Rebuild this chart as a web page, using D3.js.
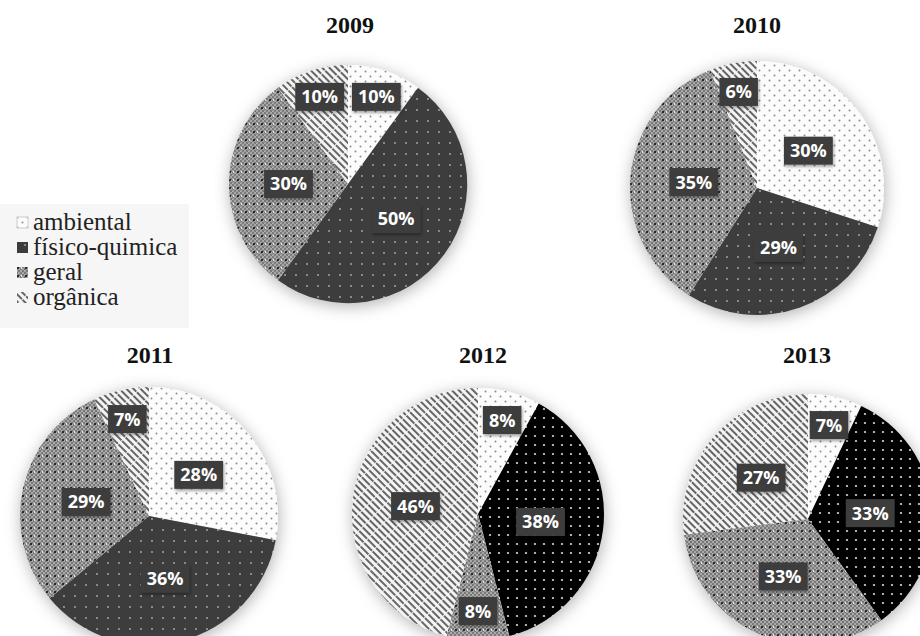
<!DOCTYPE html>
<html>
<head>
<meta charset="utf-8">
<script src="https://cdn.jsdelivr.net/npm/d3@7/dist/d3.min.js"></script>
<style>
  html, body { margin: 0; padding: 0; background: #fff; }
  svg { display: block; }
  .serif { font-family: "Liberation Serif", "DejaVu Serif", serif; }
  .lblText { font-family: "Open Sans", "DejaVu Sans", sans-serif; font-weight: 700; }
</style>
</head>
<body>
<svg id="chart" width="920" height="636"></svg>
<script>
// categories, in drawing order (clockwise from 12 o'clock)
const categories = ["ambiental", "físico-quimica", "geral", "orgânica"];
const years = ["2009", "2010", "2011", "2012", "2013"];

// percentage share per year, same order as categories
const share2009 = [10, 50, 30, 10];
const share2010 = [30, 29, 35, 6];
const share2011 = [28, 36, 29, 7];
const share2012 = [8, 38, 8, 46];
const share2013 = [7, 33, 33, 27];
const shares = [share2009, share2010, share2011, share2012, share2013];

// where each pie and its title sit on the page
const layout = [
  { cx: 348, cy: 184, r: 119, tx: 350, ty: 33, dark: false },
  { cx: 757, cy: 188, r: 127, tx: 757, ty: 33, dark: false },
  { cx: 149, cy: 516, r: 129, tx: 150, ty: 363, dark: false },
  { cx: 478, cy: 514, r: 126, tx: 483, ty: 363, dark: true },
  { cx: 808, cy: 519, r: 125, tx: 807, ty: 363, dark: true },
];

const svg = d3.select("#chart");
const defs = svg.append("defs");

// -------------------- fill patterns --------------------
function pattern(id, w, h, transform) {
  const p = defs.append("pattern")
    .attr("id", id)
    .attr("patternUnits", "userSpaceOnUse")
    .attr("width", w)
    .attr("height", h);
  if (transform) p.attr("patternTransform", transform);
  return p;
}

// ambiental: sparse grey dots on white
let p = pattern("pat-amb", 10, 10);
p.append("rect").attr("width", 10).attr("height", 10).attr("fill", "#fcfcfc");
p.append("circle").attr("cx", 2.5).attr("cy", 2.5).attr("r", 1).attr("fill", "#8c8c8c");
p.append("circle").attr("cx", 7.5).attr("cy", 7.5).attr("r", 1).attr("fill", "#8c8c8c");

// físico-química: light dots on dark grey
p = pattern("pat-fis", 11, 11);
p.append("rect").attr("width", 11).attr("height", 11).attr("fill", "#3c3c3c");
p.append("circle").attr("cx", 3).attr("cy", 3).attr("r", 1.1).attr("fill", "#9c9c9c");

// físico-química, black variant
p = pattern("pat-fis-k", 9, 9);
p.append("rect").attr("width", 9).attr("height", 9).attr("fill", "#050505");
p.append("circle").attr("cx", 3).attr("cy", 3).attr("r", 1.1).attr("fill", "#d8d8d8");

// geral: fine checker with rows of dark dots
p = pattern("pat-ger", 8, 8);
p.append("rect").attr("width", 8).attr("height", 8).attr("fill", "#a8a8a8");
[[0, 0], [4, 0], [2, 2], [6, 2], [0, 4], [4, 4], [2, 6], [6, 6]].forEach(([x, y]) => {
  p.append("rect").attr("x", x).attr("y", y).attr("width", 2).attr("height", 2).attr("fill", "#7a7a7a");
});
p.append("rect").attr("x", 1).attr("y", 3).attr("width", 2).attr("height", 2).attr("fill", "#2a2a2a");
p.append("rect").attr("x", 5).attr("y", 3).attr("width", 1).attr("height", 2).attr("fill", "#e6e6e6");

// orgânica: diagonal stripes (top-left to bottom-right)
p = pattern("pat-org", 12, 5, "rotate(45)");
p.append("rect").attr("width", 12).attr("height", 5).attr("fill", "#f4f4f4");
p.append("rect").attr("x", 0).attr("y", 0).attr("width", 11).attr("height", 2).attr("fill", "#656565");

const fillFor = (i, dark) =>
  ["url(#pat-amb)", dark ? "url(#pat-fis-k)" : "url(#pat-fis)", "url(#pat-ger)", "url(#pat-org)"][i];

// soft shadow round each pie
const sh = defs.append("filter").attr("id", "pieShadow")
  .attr("x", "-30%").attr("y", "-30%").attr("width", "160%").attr("height", "160%");
sh.append("feDropShadow").attr("dx", 1).attr("dy", 3).attr("stdDeviation", 8)
  .attr("flood-color", "#000").attr("flood-opacity", 0.3);

const lsh = defs.append("filter").attr("id", "labelShadow")
  .attr("x", "-30%").attr("y", "-30%").attr("width", "160%").attr("height", "160%");
lsh.append("feDropShadow").attr("dx", 1).attr("dy", 2).attr("stdDeviation", 1.5)
  .attr("flood-color", "#000").attr("flood-opacity", 0.35);

// -------------------- legend --------------------
const legend = svg.append("g");
legend.append("rect")
  .attr("x", 0).attr("y", 204).attr("width", 189).attr("height", 124)
  .attr("fill", "#f6f6f6");

const legendY = d3.scalePoint().domain(categories).range([222, 297]);
categories.forEach((c, i) => {
  const y = legendY(c);
  legend.append("rect")
    .attr("x", 17).attr("y", y - 5).attr("width", 11).attr("height", 11)
    .attr("fill", fillFor(i, false))
    .attr("stroke", i === 0 ? "#ccc" : "none");
  legend.append("text")
    .attr("class", "serif")
    .attr("x", 33).attr("y", y + 8)
    .style("font-size", "25px")
    .attr("fill", "#222")
    .text(c);
});

// -------------------- pies --------------------
const pie = d3.pie().sort(null).value(d => d.value);

years.forEach((year, k) => {
  const L = layout[k];
  const data = categories.map((c, i) => ({ cat: c, idx: i, value: shares[k][i] }));
  const arcs = pie(data);
  const arc = d3.arc().innerRadius(0).outerRadius(L.r);

  svg.append("text")
    .attr("class", "serif")
    .attr("x", L.tx).attr("y", L.ty)
    .attr("text-anchor", "middle")
    .style("font-weight", "bold")
    .style("font-size", "24px")
    .attr("fill", "#111")
    .text(year);

  const g = svg.append("g").attr("transform", `translate(${L.cx},${L.cy})`);

  const slices = g.append("g").attr("filter", "url(#pieShadow)");
  slices.selectAll("path")
    .data(arcs)
    .enter()
    .append("path")
    .attr("d", arc)
    .attr("fill", d => fillFor(d.data.idx, L.dark));

  // labels sit further out on the thin slices
  const labels = g.selectAll("g.lbl")
    .data(arcs)
    .enter()
    .append("g")
    .attr("class", "lbl")
    .attr("transform", d => {
      const f = d.data.value < 15 ? 0.77 : 0.5;
      const la = d3.arc().innerRadius(L.r * f).outerRadius(L.r * f);
      const [x, y] = la.centroid(d);
      return `translate(${x},${y})`;
    });

  labels.each(function(d) {
    const lg = d3.select(this);
    const t = lg.append("text")
      .attr("class", "lblText")
      .attr("text-anchor", "middle")
      .attr("dy", "0.36em")
      .style("font-size", "18px")
      .attr("fill", "#fff")
      .text(d.data.value + "%");
    const w = t.node().getComputedTextLength() + 12;
    lg.insert("rect", "text")
      .attr("x", -w / 2).attr("y", -14)
      .attr("width", w).attr("height", 28)
      .attr("fill", "#3e3e3e")
      .attr("filter", "url(#labelShadow)");
  });
});
</script>
</body>
</html>
